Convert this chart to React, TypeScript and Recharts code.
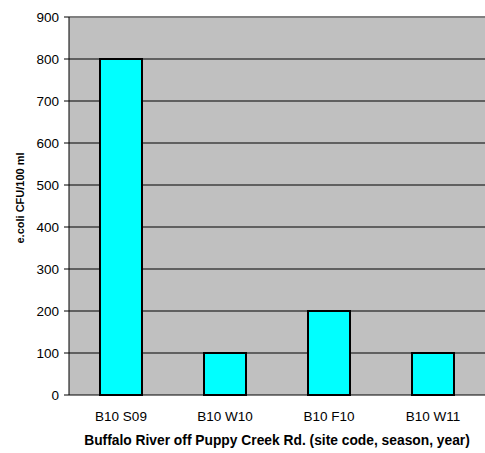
import { BarChart, Bar, XAxis, YAxis, CartesianGrid, ReferenceLine, Label } from 'recharts';

const SITES = ['B10 S09', 'B10 W10', 'B10 F10', 'B10 W11'];
const ECOLI = [800, 100, 200, 100];
const Y_TICKS = [0, 100, 200, 300, 400, 500, 600, 700, 800, 900];
const EDGE_TICKS = [0, 1, 2, 3, 4];

const data = SITES.map((site, i) => ({ site, ecoli: ECOLI[i], pos: i + 0.5 }));

const font = 'Arial, "Liberation Sans", sans-serif';

function YTitle({ viewBox }: any) {
  const x = viewBox.x + 20;
  const y = viewBox.y + viewBox.height / 2 - 8;
  return (
    <text
      x={x}
      y={y}
      transform={`rotate(-90, ${x}, ${y})`}
      textAnchor="middle"
      dominantBaseline="central"
      fill="#000"
      fontSize={11}
      fontWeight="bold"
      fontFamily={font}
    >
      e.coli CFU/100 ml
    </text>
  );
}

export default function App() {
  return (
    <div style={{ position: 'absolute', left: 0, top: 0, width: 485, height: 453, background: '#fff' }}>
      <BarChart
        width={485}
        height={453}
        data={data}
        margin={{ top: 17, right: 0, bottom: 0, left: 0 }}
        style={{ fontFamily: font }}
      >
        <CartesianGrid horizontal vertical={false} stroke="#000" strokeOpacity={1} fill="#C0C0C0" fillOpacity={1} />
        <XAxis
          xAxisId="edges"
          type="number"
          dataKey="pos"
          domain={[0, 4]}
          ticks={EDGE_TICKS}
          height={0}
          stroke="#000"
          tickSize={5}
          tickFormatter={() => ''}
        />
        <XAxis
          dataKey="site"
          height={58}
          axisLine={false}
          tickLine={false}
          tickMargin={10}
          tick={{ fill: '#000', fontSize: 13.5, fontFamily: font }}
          label={{
            value: 'Buffalo River off Puppy Creek Rd. (site code, season, year)',
            position: 'insideBottom',
            offset: 8,
            style: { fill: '#000', fontSize: 13.8, fontWeight: 'bold', fontFamily: font },
          }}
        />
        <YAxis
          width={69}
          domain={[0, 900]}
          ticks={Y_TICKS}
          interval={0}
          stroke="#000"
          tickSize={5}
          tickMargin={5}
          tick={{ fill: '#000', fontSize: 13.5, fontFamily: font }}
        >
          <Label content={YTitle} />
        </YAxis>
        <ReferenceLine y={900} stroke="#808080" strokeWidth={2} />
        <Bar dataKey="ecoli" fill="#00FFFF" stroke="#000" strokeWidth={2} barSize={42} isAnimationActive={false} />
      </BarChart>
    </div>
  );
}
